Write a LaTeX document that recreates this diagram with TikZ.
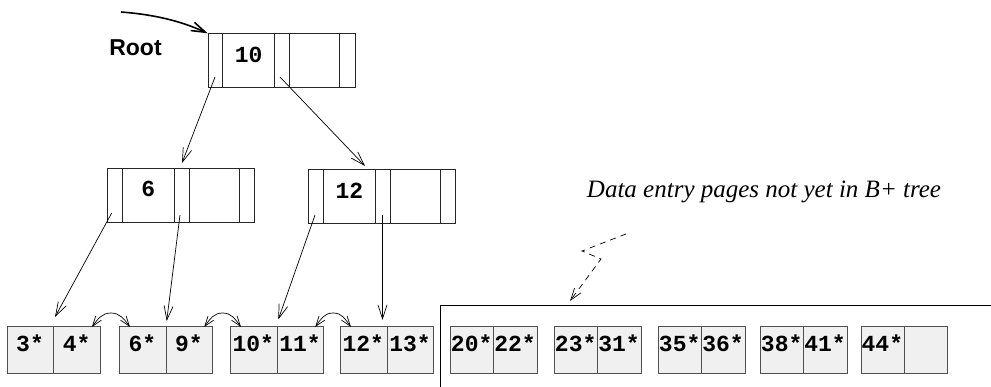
\documentclass[tikz,border=0pt]{standalone}
\usepackage{fontspec}
\setmainfont{Liberation Serif}
\newfontfamily\monob{Liberation Mono}
\newfontfamily\sansb{Liberation Sans}
\usetikzlibrary{arrows.meta,calc}
\definecolor{leaffill}{HTML}{F0F0F0}
\definecolor{leafline}{HTML}{505050}
\begin{document}
\begin{tikzpicture}[x=1pt,y=-1pt,line width=0.9pt,
  inbox/.style={draw=black!85,minimum width=147pt,minimum height=54pt,inner sep=0pt,anchor=north west},
  keylbl/.style={font=\monob\bfseries\fontsize{23}{23}\selectfont,anchor=base,inner sep=0pt},
  leafbox/.style={draw=leafline,fill=leaffill,minimum height=47pt,inner sep=0pt,anchor=north west},
  ptr/.style={-{Straight Barb[length=14pt,width=9pt]},line width=0.7pt},
  sibtip/.style={-{Straight Barb[length=10pt,width=7pt]},line width=0.7pt},
]
\useasboundingbox (0,0) rectangle (991,387);

% ---------- internal nodes ----------
\newcommand{\inode}[4]{%
  \node[inbox] (#1) at (#2,#3) {};
  \foreach \o in {15,67,82,132}{
    \draw[black!85] ([xshift=\o pt]#1.north west) -- ([xshift=\o pt]#1.south west);}
  \node[keylbl] (#1k) at ($(#1.north west)+(41pt,-29pt)$) {#4};
}
\inode{root}{207.7}{33.3}{10}
\inode{nsix}{107.3}{167.7}{6}
\inode{ntw}{308.3}{169.3}{12}

% ---------- leaves ----------
\newcommand{\leaf}[5]{%
  \node[leafbox,minimum width=#3 pt] (#1) at (#2,326) {};
  \draw[leafline] (#1.north) -- (#1.south);
  \node[keylbl] at ($(#1.north west)+(#3*0.25 pt,-26pt)$) {#4};
  \node[keylbl] at ($(#1.north west)+(#3*0.75 pt,-26pt)$) {#5};
}
\leaf{la}{6.7}{93.3}{3*}{4*}
\leaf{lb}{119}{93.3}{6*}{9*}
\leaf{lc}{230}{93.3}{10*}{11*}
\leaf{ld}{340}{93.3}{12*}{13*}
\leaf{le}{450}{86.7}{20*}{22*}
\leaf{lf}{554}{86.7}{23*}{31*}
\leaf{lg}{658}{86.7}{35*}{36*}
\leaf{lh}{760}{86.7}{38*}{41*}
\leaf{li}{860.7}{86.7}{44*}{}

% ---------- root label and arrow ----------
\node[font=\sansb\bfseries\fontsize{23}{23}\selectfont,anchor=base,inner sep=0pt] (rootlbl) at (135.5,56) {Root};
\coordinate (rs) at (121,12);
\draw[-{Straight Barb[length=14pt,width=9pt]},line width=1.6pt] (rs) .. controls (160,15) and (185,23) .. (root.north west);

% ---------- pointers ----------
\coordinate (p1) at (215,77);   \coordinate (t1) at (182,163);
\coordinate (p2) at (280,77);   \coordinate (t2) at (365,166);
\coordinate (p3) at (111.7,213);\coordinate (t3) at (55,317);
\coordinate (p4) at (180,215);  \coordinate (t4) at (166.7,321);
\coordinate (p5) at (315,215);  \coordinate (t5) at (278.3,319.5);
\coordinate (p6) at (382.5,215);\coordinate (t6) at (382.5,320);
\foreach \i in {1,...,6}{\draw[ptr] (p\i) -- (t\i);}

% ---------- sibling links (two arcs meeting at a peak) ----------
\newcommand{\sibl}[3]{%
  \coordinate (#1a) at ([xshift=-9pt,yshift=-1pt]#2.north east);
  \coordinate (#1b) at ([xshift=11pt,yshift=-1pt]#3.north west);
  \coordinate (#1m) at ($(#1a)!0.5!(#1b)+(0,14pt)$);
  \draw[sibtip] (#1m) .. controls ($(#1m)+(-9pt,0)$) and ($(#1a)+(6pt,8pt)$) .. (#1a);
  \draw[sibtip] (#1m) .. controls ($(#1m)+(9pt,0)$) and ($(#1b)+(-6pt,8pt)$) .. (#1b);
}
\sibl{s1}{la}{lb}
\sibl{s2}{lb}{lc}
\sibl{s3}{lc}{ld}

% ---------- unattached pages frame ----------
\coordinate (fb) at (440,387);
\coordinate (fc) at (440,305);
\coordinate (fr) at (991,305);
\draw[line width=0.9pt] (fb) -- (fc) -- (fr);

\node[font=\itshape\fontsize{25}{25}\selectfont,anchor=base,inner sep=0pt] (note) at (764,198) {Data entry pages not yet in B+ tree};
\coordinate (d0) at (626,234);
\coordinate (d1) at (582,251);
\coordinate (d2) at (601,259);
\coordinate (d3) at (570,301);
\draw[dashed,dash pattern=on 6pt off 5pt,line width=0.7pt,-{Straight Barb[length=12pt,width=8pt]}] (d0) -- (d1) -- (d2) -- (d3);
\end{tikzpicture}
\end{document}
